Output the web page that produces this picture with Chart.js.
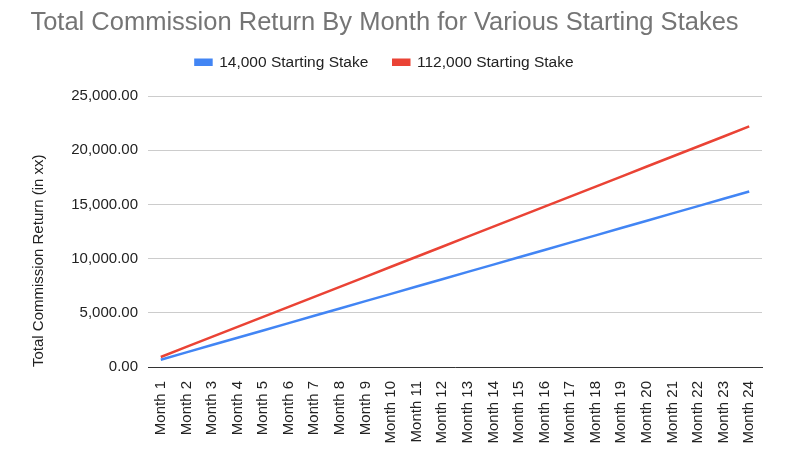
<!DOCTYPE html>
<html lang="en">
<head>
    <meta charset="UTF-8">
    <title>Total Commission Return By Month</title>
    <script src="https://cdn.jsdelivr.net/npm/chart.js"></script>
    <style>
        html, body { margin: 0; padding: 0; background: #fff; }
        #wrap { width: 786px; height: 457px; }
    </style>
</head>
<body>
    <div id="wrap"><canvas id="chart" width="786" height="457"></canvas></div>
    <script>
        // Datos
        const months = ['Month 1', 'Month 2', 'Month 3', 'Month 4', 'Month 5', 'Month 6',
            'Month 7', 'Month 8', 'Month 9', 'Month 10', 'Month 11', 'Month 12',
            'Month 13', 'Month 14', 'Month 15', 'Month 16', 'Month 17', 'Month 18',
            'Month 19', 'Month 20', 'Month 21', 'Month 22', 'Month 23', 'Month 24'];
        const stake14k = [675, 1350, 2025, 2700, 3375, 4050, 4725, 5400, 6075, 6750, 7425, 8100,
            8775, 9450, 10125, 10800, 11475, 12150, 12825, 13500, 14175, 14850, 15525, 16200];
        const stake112k = [925, 1850, 2775, 3700, 4625, 5550, 6475, 7400, 8325, 9250, 10175, 11100,
            12025, 12950, 13875, 14800, 15725, 16650, 17575, 18500, 19425, 20350, 21275, 22200];
        const seriesNames = ['14,000 Starting Stake', '112,000 Starting Stake'];

        const ctx = document.getElementById('chart').getContext('2d');
        new Chart(ctx, {
            type: 'line',
            data: {
                labels: months,
                datasets: [{
                    label: seriesNames[0],
                    data: stake14k,
                    borderColor: '#4285F4',
                    backgroundColor: '#4285F4',
                    borderWidth: 2.5,
                    pointRadius: 0,
                    tension: 0
                }, {
                    label: seriesNames[1],
                    data: stake112k,
                    borderColor: '#EA4335',
                    backgroundColor: '#EA4335',
                    borderWidth: 2.5,
                    pointRadius: 0,
                    tension: 0
                }]
            },
            options: {
                responsive: false,
                animation: false,
                devicePixelRatio: 1,
                layout: { padding: { left: 7, right: 24, top: 0, bottom: 0 } },
                plugins: {
                    title: {
                        display: true,
                        text: 'Total Commission Return By Month for Various Starting Stakes',
                        color: '#757575',
                        font: { family: 'Arial', size: 25.5, weight: 'normal' },
                        padding: { top: 8, bottom: -9 }
                    },
                    legend: {
                        labels: {
                            boxWidth: 16,
                            boxHeight: 5,
                            color: '#222',
                            font: { family: 'Arial', size: 15.5 },
                            padding: 25
                        }
                    },
                    tooltip: { enabled: false }
                },
                scales: {
                    x: {
                        offset: true,
                        grid: { display: false },
                        border: { display: true, color: '#333', width: 1 },
                        afterFit: s => { s.height = 90; },
                        ticks: {
                            color: '#222',
                            font: { family: 'Arial', size: 15 },
                            maxRotation: 90,
                            minRotation: 90,
                            autoSkip: false,
                            padding: 6
                        }
                    },
                    // eje vacio arriba, solo para dejar espacio bajo la leyenda
                    xTop: {
                        type: 'category',
                        position: 'top',
                        grid: { display: false, drawTicks: false },
                        border: { display: false },
                        ticks: { display: false },
                        afterFit: s => { s.height = 16; }
                    },
                    y: {
                        min: 0,
                        max: 25000,
                        afterFit: s => { s.width = 141; },
                        ticks: {
                            stepSize: 5000,
                            color: '#222',
                            font: { family: 'Arial', size: 15 },
                            padding: 10,
                            callback: v => v.toLocaleString('en-US', { minimumFractionDigits: 2, maximumFractionDigits: 2 })
                        },
                        grid: { color: '#ccc', drawTicks: false },
                        border: { display: false },
                        title: {
                            display: true,
                            align: 'start',
                            text: 'Total Commission Return (in xx)',
                            color: '#222',
                            font: { family: 'Arial', size: 15 },
                            padding: { top: 23, bottom: 4 }
                        }
                    }
                }
            }
        });
    </script>
</body>
</html>
